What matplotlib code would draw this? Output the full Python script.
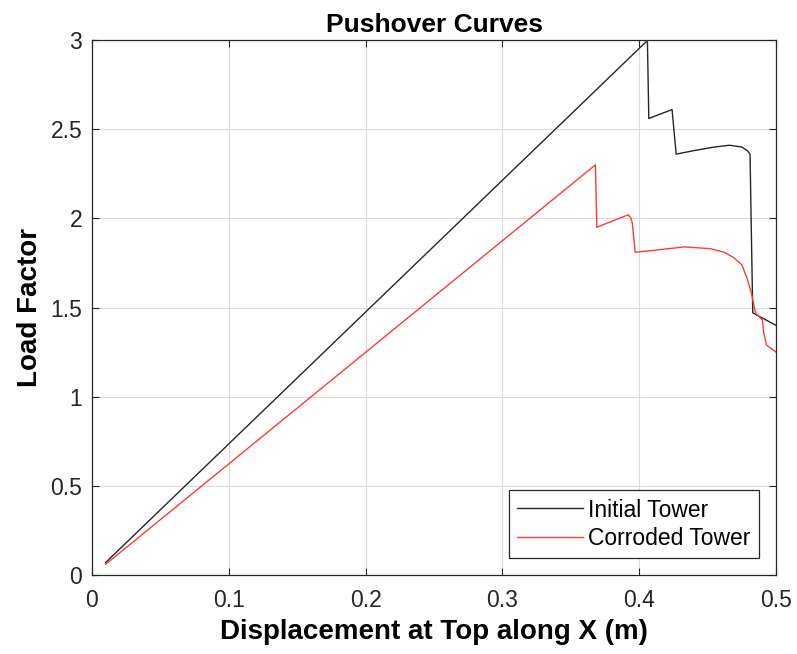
import matplotlib
matplotlib.use("Agg")
import matplotlib.pyplot as plt

plt.rcParams['font.family'] = ['Liberation Sans', 'DejaVu Sans']

# Initial tower pushover curve
x_initial = [0.01, 0.405, 0.406, 0.407, 0.424, 0.427, 0.44, 0.455, 0.466, 0.475, 0.479, 0.481, 0.482, 0.483, 0.5]
y_initial = [0.07, 2.99, 2.99, 2.56, 2.61, 2.36, 2.38, 2.40, 2.41, 2.40, 2.38, 2.36, 1.90, 1.47, 1.40]

# Corroded tower pushover curve
x_corroded = [0.01, 0.368, 0.369, 0.392, 0.394, 0.395, 0.397, 0.41, 0.433, 0.452, 0.462, 0.469, 0.475, 0.479,
              0.482, 0.485, 0.490, 0.491, 0.493, 0.5]
y_corroded = [0.06, 2.30, 1.95, 2.02, 2.00, 1.97, 1.81, 1.82, 1.84, 1.83, 1.81, 1.78, 1.74, 1.66,
              1.58, 1.47, 1.43, 1.36, 1.29, 1.25]

x_ticks = [0, 0.1, 0.2, 0.3, 0.4, 0.5]
x_tick_labels = ['0', '0.1', '0.2', '0.3', '0.4', '0.5']
y_ticks = [0, 0.5, 1, 1.5, 2, 2.5, 3]
y_tick_labels = ['0', '0.5', '1', '1.5', '2', '2.5', '3']

fig = plt.figure(figsize=(7.97, 6.54), dpi=100)
ax = fig.add_axes([0.1154, 0.1208, 0.8583, 0.818])

ax.plot(x_initial, y_initial, color='#262626', lw=1.0, label='Initial Tower')
ax.plot(x_corroded, y_corroded, color='#ff3a3a', lw=1.0, label='Corroded Tower')

ax.set_xlim(0, 0.5)
ax.set_ylim(0, 3)
ax.set_xticks(x_ticks)
ax.set_xticklabels(x_tick_labels)
ax.set_yticks(y_ticks)
ax.set_yticklabels(y_tick_labels)
ax.grid(True, color='#dcdcdc', lw=0.8)
ax.set_axisbelow(True)
ax.tick_params(direction='in', length=5, width=0.8, colors='#262626', labelsize=16.5,
               top=True, right=True)
ax.tick_params(axis='x', pad=10)
ax.tick_params(axis='y', pad=7)
for s in ax.spines.values():
    s.set_color('#262626')
    s.set_linewidth(0.9)

ax.set_title('Pushover Curves', fontsize=19, fontweight='bold', pad=6)
ax.set_xlabel('Displacement at Top along X (m)', fontsize=20, fontweight='bold', labelpad=5)
ax.set_ylabel('Load Factor', fontsize=20, fontweight='bold', labelpad=5)

leg = ax.legend(loc='lower right', fontsize=16.5, fancybox=False, framealpha=1,
                edgecolor='#262626', handlelength=2.85, handletextpad=0.25,
                borderaxespad=0.75, borderpad=0.35, labelspacing=0.23)
leg.get_frame().set_linewidth(0.9)

fig.savefig('out.png', dpi=100)
